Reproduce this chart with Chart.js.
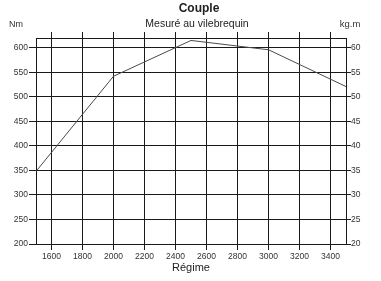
<!DOCTYPE html>
<html>
<head>
<meta charset="utf-8">
<script src="https://cdn.jsdelivr.net/npm/chart.js@4/dist/chart.umd.min.js"></script>
<style>
html,body{margin:0;padding:0;background:#fff;}
#wrap{width:381px;height:281px;position:relative;}
</style>
</head>
<body>
<div id="wrap"><canvas id="c" width="381" height="281"></canvas></div>
<script>
// Data
const rpm = [1500, 2000, 2500, 3000, 3500];
const torqueNm = [348, 542, 615, 596, 521];
const xTicks = [1600, 1800, 2000, 2200, 2400, 2600, 2800, 3000, 3200, 3400];
const yTicksNm = [200, 250, 300, 350, 400, 450, 500, 550, 600];
const yTicksKgm = [20, 25, 30, 35, 40, 45, 50, 55, 60];
const titleText = 'Couple';
const subtitleText = 'Mesuré au vilebrequin';
const leftUnit = 'Nm';
const rightUnit = 'kg.m';
const xTitle = 'Régime';

const FONT = "'Liberation Sans Narrow', 'Liberation Sans', Arial, sans-serif";
const FONT_W = "'Liberation Sans', Arial, sans-serif";
const GRID = '#1a1a1a';
const TXT = '#333';

const fixTicks = (arr) => (scale) => { scale.ticks = arr.map(v => ({value: v})); };
const plain = (v) => String(v);

const textPlugin = {
  id: 'headerText',
  afterDraw(chart) {
    const ctx = chart.ctx;
    ctx.save();
    ctx.fillStyle = '#222';
    ctx.textAlign = 'center';
    ctx.textBaseline = 'middle';
    ctx.font = "bold 12px " + FONT_W;
    ctx.fillText(titleText, 199, 8.5);
    ctx.font = "10.5px " + FONT_W;
    ctx.fillText(subtitleText, 197, 24);
    ctx.fillStyle = TXT;
    ctx.font = "9px " + FONT;
    ctx.fillText(leftUnit, 16, 24.5);
    ctx.font = "9.5px " + FONT_W;
    ctx.fillText(rightUnit, 350, 24.5);
    ctx.restore();
  }
};

new Chart(document.getElementById('c'), {
  type: 'line',
  data: {
    datasets: [{
      data: rpm.map((x, i) => ({x: x, y: torqueNm[i]})),
      borderColor: '#4a4a4a',
      borderWidth: 1,
      pointRadius: 0,
      tension: 0,
      fill: false,
      xAxisID: 'x',
      yAxisID: 'y'
    }]
  },
  options: {
    responsive: false,
    animation: false,
    layout: {padding: {top: 32, left: 0, right: 0, bottom: 0}},
    plugins: {legend: {display: false}, tooltip: {enabled: false}, title: {display: false}},
    scales: {
      x: {
        type: 'linear', position: 'bottom', min: 1500, max: 3500,
        afterBuildTicks: fixTicks(xTicks),
        afterFit: (s) => { s.height = 37; },
        grid: {color: GRID, lineWidth: 1, tickLength: 6, drawTicks: true},
        border: {display: true, color: GRID, width: 1},
        ticks: {color: TXT, font: {family: FONT, size: 8.5}, padding: 2, maxRotation: 0, autoSkip: false, callback: plain},
        title: {display: true, text: xTitle, color: '#222', font: {family: FONT_W, size: 11}, padding: {top: 0, bottom: 6}}
      },
      x2: {
        type: 'linear', position: 'top', min: 1500, max: 3500,
        afterBuildTicks: fixTicks(xTicks),
        afterFit: (s) => { s.height = 6; },
        grid: {color: GRID, lineWidth: 1, tickLength: 6, drawOnChartArea: false},
        border: {display: true, color: GRID, width: 1},
        ticks: {display: false}
      },
      y: {
        type: 'linear', position: 'left', min: 200, max: 620,
        afterBuildTicks: fixTicks(yTicksNm),
        afterFit: (s) => { s.width = 36; },
        grid: {color: GRID, lineWidth: 1, tickLength: 7},
        border: {display: true, color: GRID, width: 1},
        ticks: {color: TXT, font: {family: FONT, size: 8.5}, padding: 1, callback: plain}
      },
      y2: {
        type: 'linear', position: 'right', min: 20, max: 62,
        afterBuildTicks: fixTicks(yTicksKgm),
        afterFit: (s) => { s.width = 35; },
        grid: {color: GRID, lineWidth: 1, tickLength: 5, drawOnChartArea: false},
        border: {display: true, color: GRID, width: 1},
        ticks: {color: TXT, font: {family: FONT, size: 8.5}, padding: 0, callback: plain}
      }
    }
  },
  plugins: [textPlugin]
});
</script>
</body>
</html>
